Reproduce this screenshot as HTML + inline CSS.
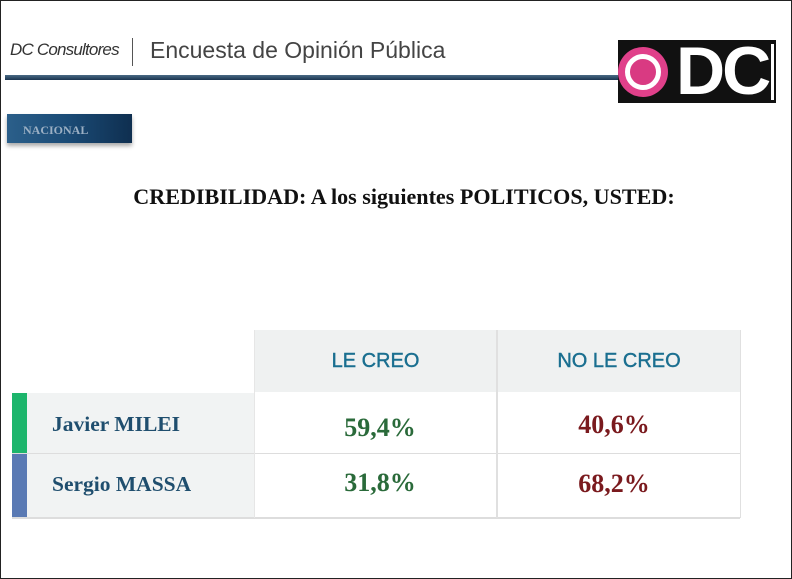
<!DOCTYPE html>
<html><head><meta charset="utf-8"><style>
body{margin:0;width:792px;height:579px;background:#fff;position:relative;overflow:hidden;font-family:"Liberation Sans",sans-serif}
.a{position:absolute}
</style></head><body>
<div class="a" style="left:0;top:0;width:790px;height:577px;border:1px solid #222"></div>
<div class="a" style="left:10px;top:40px;font-size:17px;color:#333;font-style:italic;letter-spacing:-0.8px">DC Consultores</div>
<div class="a" style="left:132px;top:38px;width:1px;height:28px;background:#555"></div>
<div class="a" style="left:150px;top:37px;font-size:23px;color:#444">Encuesta de Opinión Pública</div>
<div class="a" style="left:5px;top:75px;width:615px;height:5px;background:linear-gradient(#4a6a85,#1b3550)"></div>
<div class="a" style="left:618px;top:40px;width:158px;height:63px;background:#111"></div>
<div class="a" style="left:618px;top:47px;width:50px;height:50px;border-radius:50%;background:#e0408a"></div>
<div class="a" style="left:625px;top:54px;width:26px;height:26px;border:5px solid #fff;border-radius:50%;background:#d93a82"></div>
<div class="a" style="left:676px;top:36px;font-size:68px;font-weight:bold;color:#fff;letter-spacing:-3px;line-height:70px">DC</div>
<div class="a" style="left:771px;top:44px;width:3px;height:56px;background:#fff"></div>
<div class="a" style="left:7px;top:114px;width:125px;height:29px;background:linear-gradient(90deg,#2b5f8a,#1a4a75,#0f2f50);box-shadow:0 3px 4px #aaa"></div>
<div class="a" style="left:23px;top:123px;font-family:'Liberation Serif',serif;font-size:12px;font-weight:bold;color:#9cb0c4">NACIONAL</div>
<div class="a" style="left:0;width:808px;top:184px;text-align:center;font-family:'Liberation Serif',serif;font-size:22.1px;font-weight:bold;color:#111">CREDIBILIDAD: A los siguientes POLITICOS, USTED:</div>
<div class="a" style="left:255px;top:330px;width:241px;height:62px;background:#eff1f1"></div>
<div class="a" style="left:498px;top:330px;width:242px;height:62px;background:#eff1f1"></div>
<div class="a" style="left:255px;top:350px;width:241px;text-align:center;font-size:20px;color:#1a6f90;-webkit-text-stroke:0.4px #1a6f90">LE CREO</div>
<div class="a" style="left:498px;top:350px;width:242px;text-align:center;font-size:20px;color:#1a6f90;-webkit-text-stroke:0.4px #1a6f90">NO LE CREO</div>
<div class="a" style="left:12px;top:393px;width:243px;height:124px;background:#f1f3f3"></div>
<div class="a" style="left:12px;top:393px;width:15px;height:61px;background:#1db56c"></div>
<div class="a" style="left:12px;top:454px;width:15px;height:63px;background:#5a7ab4"></div>
<div class="a" style="left:12px;top:453px;width:728px;height:1px;background:#ddd"></div>
<div class="a" style="left:12px;top:517px;width:728px;height:2px;background:#ddd"></div>
<div class="a" style="left:496px;top:330px;width:2px;height:188px;background:#e0e0e0"></div>
<div class="a" style="left:740px;top:330px;width:1px;height:188px;background:#e0e0e0"></div>
<div class="a" style="left:254px;top:330px;width:1px;height:188px;background:#e6e6e6"></div>
<div class="a" style="left:52px;top:412px;font-family:'Liberation Serif',serif;font-size:21.5px;font-weight:bold;color:#1f4e6e">Javier MILEI</div>
<div class="a" style="left:52px;top:472px;font-family:'Liberation Serif',serif;font-size:21.5px;font-weight:bold;color:#1f4e6e">Sergio MASSA</div>
<div class="a" style="left:255px;top:413px;width:250px;text-align:center;font-family:'Liberation Serif',serif;font-size:26px;font-weight:bold;color:#2a6a3a">59,4%</div>
<div class="a" style="left:255px;top:468px;width:250px;text-align:center;font-family:'Liberation Serif',serif;font-size:26px;font-weight:bold;color:#2a6a3a">31,8%</div>
<div class="a" style="left:498px;top:410px;width:232px;text-align:center;font-family:'Liberation Serif',serif;font-size:26px;font-weight:bold;color:#7a1a1e">40,6%</div>
<div class="a" style="left:498px;top:469px;width:232px;text-align:center;font-family:'Liberation Serif',serif;font-size:26px;font-weight:bold;color:#7a1a1e">68,2%</div>
</body></html>
